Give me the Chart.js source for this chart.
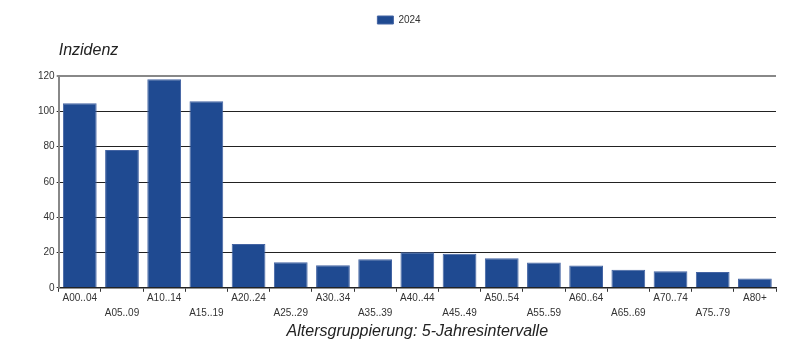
<!DOCTYPE html>
<html>
<head>
<meta charset="utf-8">
<script src="https://cdn.jsdelivr.net/npm/chart.js@4/dist/chart.umd.min.js"></script>
<style>
html,body{margin:0;padding:0;background:#fff;}
#wrap{width:800px;height:355px;position:relative;}
</style>
</head>
<body>
<div id="wrap"><canvas id="c" width="800" height="355"></canvas></div>
<script>
const categories = ["A00..04","A05..09","A10..14","A15..19","A20..24","A25..29","A30..34","A35..39","A40..44","A45..49","A50..54","A55..59","A60..64","A65..69","A70..74","A75..79","A80+"];
const values2024 = [104.7, 78.1, 118.3, 105.8, 24.9, 14.5, 12.8, 16.2, 20.2, 19.3, 16.8, 14.4, 12.6, 10.2, 9.4, 8.9, 5.3];
const seriesLabel = "2024";
const yTicks = [0, 20, 40, 60, 80, 100, 120];
const yTitle = "Inzidenz";
const xTitle = "Altersgruppierung: 5-Jahresintervalle";

const FONT = "'Liberation Sans', Arial, sans-serif";
Chart.defaults.font.family = FONT;
Chart.defaults.color = '#333';

new Chart(document.getElementById('c'), {
  type: 'bar',
  data: {
    labels: categories,
    datasets: [{
      label: seriesLabel,
      data: values2024,
      backgroundColor: '#1f4a91',
      borderColor: '#4464a3',
      borderWidth: 1,
      barPercentage: 0.8,
      categoryPercentage: 1.0
    }]
  },
  options: {
    responsive: false,
    animation: false,
    layout: { padding: { left: 22, right: 24, top: 5, bottom: 14 } },
    plugins: {
      legend: {
        position: 'top',
        align: 'center',
        labels: { boxWidth: 16, boxHeight: 8, font: { size: 10 }, color: '#333', padding: 10 }
      },
      title: {
        display: true,
        text: yTitle,
        align: 'start',
        position: 'top',
        fullSize: false,
        weight: 500,
        color: '#222',
        font: { size: 16, style: 'italic', weight: 'normal' },
        padding: { top: 6, bottom: 16 }
      },
      tooltip: { enabled: false }
    },
    scales: {
      x: {
        offset: true,
        grid: { display: true, drawOnChartArea: false, drawTicks: true, tickLength: 4, offset: true, color: '#333', lineWidth: 1 },
        border: { display: true, color: '#222', width: 1.5 },
        ticks: {
          autoSkip: false, maxRotation: 0, minRotation: 0, padding: -1,
          font: { size: 10, lineHeight: 1.5 }, color: '#333',
          callback: function(v, i) { const l = categories[i]; return i % 2 === 0 ? [l] : ['', l]; }
        },
        title: { display: true, text: xTitle, color: '#222', font: { size: 16, style: 'italic' }, padding: { top: 2, bottom: 0 } }
      },
      y: {
        min: 0, max: 120,
        afterBuildTicks: function(axis) { axis.ticks = yTicks.map(v => ({ value: v })); },
        afterFit: function(axis) { axis.width += 14; },
        grid: {
          color: ctx => (ctx.tick && ctx.tick.value === 120) ? '#888' : '#222',
          lineWidth: ctx => (ctx.tick && ctx.tick.value === 120) ? 2 : 1,
          drawTicks: true, tickLength: 2
        },
        border: { display: true, color: '#888', width: 2 },
        ticks: { padding: 2, font: { size: 10 }, color: '#333' }
      }
    }
  }
});
</script>
</body>
</html>
